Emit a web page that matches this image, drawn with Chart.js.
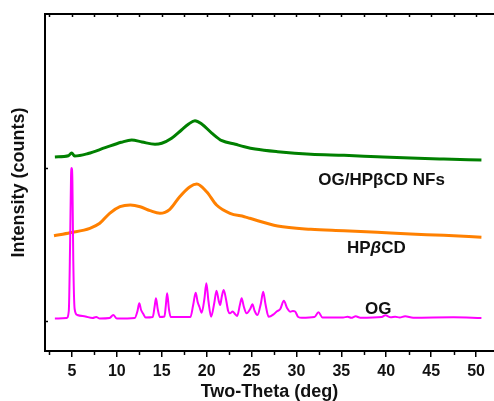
<!DOCTYPE html>
<html>
<head>
<meta charset="utf-8">
<script src="https://cdn.jsdelivr.net/npm/chart.js@4.4.1/dist/chart.umd.min.js"></script>
<style>
	html, body { margin: 0; padding: 0; background: #fff; }
	#wrap { width: 494px; height: 401px; }
</style>
</head>
<body>
<div id="wrap"><canvas id="xrd-chart"></canvas></div>
<script>
// Two-theta positions and intensities (arbitrary counts, offset per pattern)
var og_x = [3.1, 4.4, 4.65, 4.8, 4.9, 4.97, 5.05, 5.15, 5.3, 5.6, 6.5, 7.3, 7.7, 8.1, 9.2, 9.6, 10.0,
	12.0, 12.3, 12.5, 12.7, 12.95, 13.2, 14.0, 14.2, 14.36, 14.55, 14.8, 15.3, 15.45, 15.6, 15.8, 16.0,
	18.2, 18.5, 18.78, 19.0, 19.2, 19.45, 19.75, 19.97, 20.2, 20.5, 20.85, 21.1, 21.35, 21.5, 21.7, 21.9,
	22.15, 22.4, 22.6, 22.9, 23.15, 23.4, 23.7, 23.9, 24.15, 24.45, 24.85, 25.1, 25.35, 25.65, 26.05, 26.3,
	26.55, 26.9, 27.5, 27.8, 28.2, 28.6, 28.95, 29.3, 29.6, 29.85, 30.2, 30.6, 32.0, 32.45, 32.9, 35.2,
	35.7, 36.1, 36.6, 37.1, 39.5, 39.9, 40.5, 41.0, 41.5, 42.1, 43.0, 47.5, 50.6];
var og_y = [32.5, 33, 40, 110, 175, 183, 170, 90, 42, 36, 34.5, 33, 34, 32.5, 33, 36, 32.5,
	33, 40, 47.7, 41, 37, 33.5, 34, 44, 52.7, 42, 34, 34.5, 45, 57.7, 42, 34,
	34, 46, 58.3, 49, 44, 38.3, 52, 67.7, 50, 34.3, 48, 60.3, 50, 46, 55, 61,
	52, 40, 37.7, 39.5, 37, 35, 46, 52.7, 44, 37.7, 42, 46.7, 40, 36, 48, 59.3,
	47, 34.3, 37, 39.5, 42, 50.3, 43, 39.3, 40, 39.5, 34, 33.3, 34, 38.7, 33.5, 33.5,
	34.3, 33.2, 34.7, 33.3, 34, 35.7, 33.7, 34.3, 33.5, 34.7, 33.3, 33.7, 33];

var cd_x = [3.0, 4.8, 7.0, 8.1, 9.2, 10.35, 11.5, 12.6, 13.7, 14.8, 15.9, 17.0, 18.15, 18.9, 20.0,
	21.1, 22.6, 24.2, 24.8, 27.9, 31.6, 35.3, 39.0, 42.7, 46.4, 50.6];
var cd_y = [115.3, 118.3, 122.7, 127.7, 137.7, 144.3, 146, 144.3, 140.3, 137.7, 141.7, 154.3, 164.3, 167, 159.3,
	146, 137.7, 134.3, 132.7, 125, 121.7, 120.3, 118.7, 117, 115.7, 113.7];

var nf_x = [3.1, 4.6, 4.97, 5.3, 6.8, 8.7, 10.5, 11.65, 12.8, 14.25, 15.0, 16.1, 17.2, 18.0, 18.7, 19.45,
	20.6, 21.7, 23.2, 24.2, 25.4, 27.9, 31.6, 35.3, 39.0, 42.7, 46.4, 50.6];
var nf_y = [194, 195.3, 198, 195, 197.5, 203.3, 208.7, 211, 209, 206.7, 207.7, 212.7, 221, 227, 230.3, 227,
	217.7, 210.3, 206.7, 204.3, 202, 199.3, 196.7, 195.7, 194.3, 193, 192, 191];

var x_ticks = [5, 10, 15, 20, 25, 30, 35, 40, 45, 50];
var y_ticks = [183, 30];

// Pattern labels: text, x, y (data coords)
var labels = [
	{ parts: [["OG/HP\u03b2CD NFs", false]], x: 39.48, y: 171 },
	{ parts: [["HP", false], ["\u03b2", true], ["CD", false]], x: 38.9, y: 103 },
	{ parts: [["OG", false]], x: 39.1, y: 42 }
];

var FONT = "'Liberation Sans', Arial, sans-serif";

function toPoints(xs, ys) {
	var pts = [];
	for (var i = 0; i < xs.length; i++) {
		pts.push({ x: xs[i], y: ys[i] });
	}
	return pts;
}

// box, minor ticks and pattern labels
var framePlugin = {
	id: "frame",
	afterDraw: function(chart) {
		var ctx = chart.ctx;
		var a = chart.chartArea;
		var xs = chart.scales.x;
		var ys = chart.scales.y;
		ctx.save();
		ctx.strokeStyle = "#000";
		ctx.lineWidth = 2;
		ctx.beginPath();
		ctx.moveTo(a.left, a.top);
		ctx.lineTo(a.right, a.top);
		ctx.stroke();
		ctx.lineWidth = 1.5;
		for (var v = 2.5; v < 52; v += 2.5) {
			var px = Math.round(xs.getPixelForValue(v)) + 0.5;
			ctx.beginPath();
			ctx.moveTo(px, a.top);
			ctx.lineTo(px, a.top + 3);
			ctx.stroke();
			if (v % 5 !== 0) {
				ctx.beginPath();
				ctx.moveTo(px, a.bottom);
				ctx.lineTo(px, a.bottom + 4);
				ctx.stroke();
			}
		}
		for (var i = 0; i < y_ticks.length; i++) {
			var py = Math.round(ys.getPixelForValue(y_ticks[i])) + 0.5;
			ctx.beginPath();
			ctx.moveTo(a.left, py);
			ctx.lineTo(a.left + 3, py);
			ctx.stroke();
		}
		// labels
		ctx.fillStyle = "#111";
		ctx.textBaseline = "middle";
		ctx.textAlign = "left";
		for (var j = 0; j < labels.length; j++) {
			var lab = labels[j];
			var total = 0;
			for (var k = 0; k < lab.parts.length; k++) {
				ctx.font = (lab.parts[k][1] ? "italic " : "") + "bold 17px " + FONT;
				total += ctx.measureText(lab.parts[k][0]).width;
			}
			var lx = xs.getPixelForValue(lab.x) - total / 2;
			var ly = ys.getPixelForValue(lab.y);
			for (var k = 0; k < lab.parts.length; k++) {
				ctx.font = (lab.parts[k][1] ? "italic " : "") + "bold 17px " + FONT;
				ctx.fillText(lab.parts[k][0], lx, ly);
				lx += ctx.measureText(lab.parts[k][0]).width;
			}
		}
		ctx.restore();
	}
};

window.addEventListener("load", function() {
	var chart_ctx = document.getElementById("xrd-chart");
	var chart = new Chart(chart_ctx, {
		type: "line",
		data: {
			datasets: [{
				data: toPoints(og_x, og_y),
				borderColor: "#ff00ff",
				borderWidth: 2
			}, {
				data: toPoints(cd_x, cd_y),
				borderColor: "#ff8000",
				borderWidth: 3
			}, {
				data: toPoints(nf_x, nf_y),
				borderColor: "#008000",
				borderWidth: 3
			}]
		},
		options: {
			responsive: true,
			maintainAspectRatio: false,
			animation: false,
			layout: { padding: { top: 14, left: 0, right: 0, bottom: 0 } },
			elements: {
				point: { radius: 0 },
				line: { cubicInterpolationMode: "monotone", fill: false }
			},
			plugins: {
				legend: { display: false },
				tooltip: { enabled: false }
			},
			scales: {
				x: {
					type: "linear",
					min: 2,
					max: 52,
					afterFit: function(s) { s.height = 50; },
					afterBuildTicks: function(s) {
						s.ticks = x_ticks.map(function(v) { return { value: v }; });
					},
					ticks: {
						color: "#111",
						padding: 5,
						maxRotation: 0,
						autoSkip: false,
						font: { family: FONT, size: 16, weight: "bold" }
					},
					grid: { drawOnChartArea: false, tickLength: 6, color: "#000", lineWidth: 1.5 },
					border: { display: true, color: "#000", width: 2 },
					title: {
						display: true,
						text: "Two-Theta (deg)",
						color: "#111",
						padding: { top: 0, bottom: 0 },
						font: { family: FONT, size: 18, weight: "bold", lineHeight: 1 }
					}
				},
				y: {
					min: 0,
					max: 337,
					afterFit: function(s) { s.width = 45; },
					ticks: { display: false },
					grid: { drawOnChartArea: false, drawTicks: false },
					border: { display: true, color: "#000", width: 2 },
					title: {
						display: true,
						text: "Intensity (counts)",
						color: "#111",
						padding: { top: 10, bottom: 0 },
						font: { family: FONT, size: 18, weight: "bold", lineHeight: 1 }
					}
				}
			}
		},
		plugins: [framePlugin]
	});
});
</script>
</body>
</html>
